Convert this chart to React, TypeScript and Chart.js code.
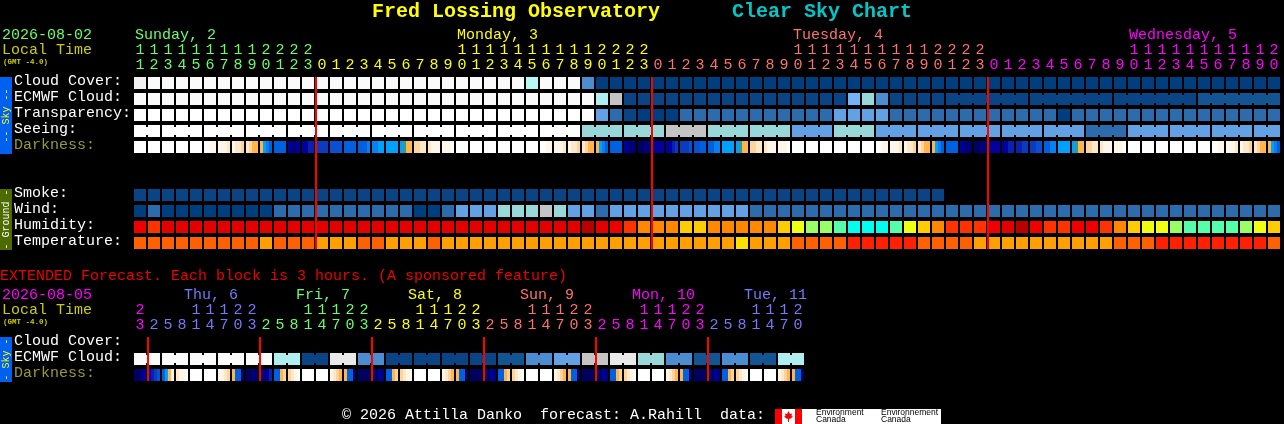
import React, { useEffect, useRef } from "react";
import { Chart, registerables } from "chart.js";

Chart.register(...registerables);

const MONO = '"Liberation Mono", monospace';

// ---------- top block: hourly forecast ----------
const hourLabels = [
  11, 12, 13, 14, 15, 16, 17, 18, 19, 20, 21, 22, 23,
  0, 1, 2, 3, 4, 5, 6, 7, 8, 9, 10, 11, 12, 13, 14, 15, 16, 17, 18, 19, 20, 21, 22, 23,
  0, 1, 2, 3, 4, 5, 6, 7, 8, 9, 10, 11, 12, 13, 14, 15, 16, 17, 18, 19, 20, 21, 22, 23,
  0, 1, 2, 3, 4, 5, 6, 7, 8, 9, 10, 11, 12, 13, 14, 15, 16, 17, 18, 19, 20,
];
const dayNames = ["Sunday, 2", "Monday, 3", "Tuesday, 4", "Wednesday, 5"];
const dayFirstHour = [0, 13, 37, 61];
const dayNameAt = [0, 23, 47, 71];
const dayColors = ["#66ff66", "#ffff00", "#ff7070", "#ff00ff"];

// sky levels: 0 clear ... 14 pure white
const skyPalette = [
  "#003f7f", "#0a4484", "#135593", "#2c6cad", "#4c8cd0", "#62a2e4", "#74b4f5", "#99d8d8",
  "#aeeeee", "#b6f7f7", "#c4c4c4", "#e9e9e9", "#f0f0f0", "#fafafa", "#ffffff",
];
const cloudCover = [
  12, 13, 13, 13, 13, 13, 13, 13, 13, 13, 13, 13, 13, 13, 13, 13, 13, 13, 13, 13, 13, 13, 13, 13, 13, 13, 13, 13, 9, 13, 13, 13,
  4, 0, 0, 0, 0, 0, 0, 0, 0, 0, 0, 0, 0, 0, 0, 0, 0, 0, 0, 0, 0, 0, 0, 0, 0, 0, 0, 0, 0, 0, 0, 0, 0, 0, 0, 0, 0, 0, 0, 0, 0, 0, 0, 0, 0, 0, 0, 0, 0, 0,
];
const ecmwfCloud = [
  13, 13, 13, 13, 13, 13, 13, 13, 13, 13, 13, 13, 13, 13, 13, 13, 13, 13, 13, 13, 13, 13, 13, 13, 13, 13, 13, 13, 13, 13, 13, 13, 13,
  8, 10,
  1, 1, 1, 1, 1, 1, 1, 1, 1, 1, 1, 1, 1, 1, 1, 1,
  6, 7, 4,
  1, 1, 1, 1, 1, 1, 1, 1, 1, 1, 1, 1, 1, 1, 1, 1, 1, 1, 1, 1, 1, 1,
  2, 2, 2, 2, 2, 2,
];
const transparency = [
  14, 14, 14, 14, 14, 14, 14, 14, 14, 14, 14, 14, 14, 14, 14, 14, 14, 14, 14, 14, 14, 14, 14, 14, 14, 14, 14, 14, 14, 14, 14, 14, 14,
  5, 3, 1, 0, 0, 0,
  3, 3, 3, 3, 3, 3, 3, 3, 3, 3, 3,
  5, 5, 5, 5,
  3, 3, 3, 3, 3, 3, 3, 3, 3, 3, 3, 3,
  0,
  3, 3, 3, 3, 3, 3, 3, 3, 3, 3, 3, 3, 3, 3, 3,
];
const seeing = [
  14, 14, 14, 14, 14, 14, 14, 14, 14, 14, 14, 14, 14, 14, 14, 14, 14, 14, 14, 14, 14, 14, 14, 14, 14, 14, 14, 14, 14, 14, 14, 14,
  7, 7, 7, 7, 7, 7, 10, 10, 10, 7, 7, 7, 7, 7, 7, 5, 5, 5, 7, 7, 7, 5, 5, 5, 5, 5, 5, 5, 5, 5, 5, 5, 5, 5, 5, 5, 3, 3, 3, 5, 5, 5, 5, 5, 5, 5, 5, 5, 5, 5,
];
const smoke = [
  1, 1, 1, 1, 1, 1, 1, 1, 1, 1, 1, 1, 1, 1, 1, 1, 1, 1, 1, 1, 1, 1, 1, 1, 1, 1, 1, 1, 1,
  1, 1, 1, 1, 1, 1, 1, 1, 1, 1, 1, 1, 1, 1, 1, 1, 1, 1, 1, 1, 1, 1, 1, 1, 1, 1, 1, 1, 1,
];
const wind = [
  0, 3, 0, 0, 0, 0, 0, 0, 0, 0, 3, 3, 3, 3, 3, 3, 3, 3, 3, 3, 0, 0, 3, 5, 5, 5, 7, 7, 7, 10, 7, 5, 5, 3, 5, 5, 5, 5, 5, 5, 5, 5, 5, 5,
  3, 3, 3, 3, 3, 3, 3, 3, 3, 3, 3, 3, 3, 3, 3, 3, 3, 3, 3, 3, 3, 3, 3, 3, 3, 3, 3, 3, 3, 3, 3, 3, 3, 3, 3, 3, 3, 3,
];
const humidityPalette: Record<number, string> = {
  50: "#00ffee", 55: "#55ffaa", 60: "#99ff66", 65: "#eeff11", 70: "#ffcc00", 75: "#ff8800",
  80: "#ff3300", 85: "#ee0000", 90: "#e20000", 95: "#b80000",
};
const humidity = [
  85, 80, 90, 90, 90, 90, 90, 90, 90, 90, 90, 90, 90, 90, 90, 90, 90, 90, 90, 90, 90, 90,
  90, 90, 90, 90, 90, 90, 90, 90, 90, 90, 95, 90, 85, 80, 75, 75, 75, 70, 70, 75, 75, 75, 75, 75, 70, 65, 60, 60, 55, 50,
  50, 50, 55, 65, 70, 75, 80, 80, 80, 85, 90, 95, 85, 80, 80, 85, 85, 80, 75, 70, 65, 65, 60, 55, 55, 55, 55, 60, 65, 70,
];
const temperaturePalette: Record<number, string> = {
  18: "#ffdf00", 20: "#ffa000", 22: "#ff6000", 25: "#ff2000",
};
const temperature = [
  22, 22, 22, 22, 22, 22, 22, 22, 22, 20, 22, 22, 22, 20, 20, 20, 22, 22, 20, 20, 20, 22,
  20, 20, 20, 20, 20, 20, 20, 20, 20, 20, 20, 20, 20, 20, 20, 20, 20, 20, 20, 20, 20, 18, 20, 20, 20, 22, 22, 22, 22, 25,
  25, 25, 25, 25, 22, 22, 22, 22, 20, 20, 20, 20, 20, 20, 20, 20, 20, 20, 22, 22, 22, 25, 25, 25, 25, 25, 25, 25, 25, 22,
];
const darknessPalette: Record<string, string> = {
  w: "#ffffff", c: "#fff6ea", d: "#ffe8c8", t: "#ffd49a", o: "#ffb44c", g: "#3a9a8a",
  a: "#00a0ff", b: "#0a80ee", e: "#0060e0", f: "#0a50d0", h: "#0a3cc0", i: "#0a20b0",
  j: "#0000a0", k: "#000080", l: "#000060",
};
const darkness = [
  "wwww", "wwww", "wwww", "wwww", "wwww", "wwcc", "cccd", "cddt", "dtoo", "oabe", "eeee", "jkkj", "jjii", "hhhh", "ffff", "eeee", "eeeb", "bbaa", "aaaa", "agoo", "ttdd", "dccc", "cccw",
  "wwww", "wwww", "wwww", "wwww", "wwww", "wwww", "wwcc", "cccd", "cddt", "dtoo", "oabe", "eeee", "jkkl", "llkk", "kjjj", "jjih", "hhhf", "ffee", "eebb", "aaaa", "agoo", "ttdd", "dccc", "cccw",
  "wwww", "wwww", "wwww", "wwww", "wwww", "wwww", "wwcc", "cccd", "cddt", "dtoo", "oabe", "eeee", "jkkl", "llkk", "kjjj", "jjii", "iihh", "hhff", "eebb", "aaaa", "agoo", "ttdd", "dccc", "cccw",
  "wwww", "wwww", "wwww", "wwww", "wwww", "wwww", "wwcc", "cccd", "cddt", "dtoo", "oabe",
];
const midnightCells = [13, 37, 61];
const topRowLabels = ["Cloud Cover:", "ECMWF Cloud:", "Transparency:", "Seeing:", "Darkness:", "", "", "Smoke:", "Wind:", "Humidity:", "Temperature:"];

// ---------- bottom block: extended forecast ----------
const extHourLabels = [
  23, 2, 5, 8, 11, 14, 17, 20, 23, 2, 5, 8, 11, 14, 17, 20, 23, 2, 5, 8, 11, 14, 17, 20, 23,
  2, 5, 8, 11, 14, 17, 20, 23, 2, 5, 8, 11, 14, 17, 20, 23, 2, 5, 8, 11, 14, 17, 20,
];
const extDayNames = ["Thu, 6", "Fri, 7", "Sat, 8", "Sun, 9", "Mon, 10", "Tue, 11"];
const extDayFirstHour = [1, 9, 17, 25, 33, 41];
const extDayColors = ["#7777ff", "#66ff66", "#ffff00", "#ff7070", "#ff00ff", "#7777ff"];
const extFirstColor = "#ff00ff";
const extEcmwf = [
  13, 13, 13, 13, 13, 13, 13, 13, 13, 13, 8, 8, 1, 1, 11, 11, 4, 4, 1, 1, 1, 1, 1, 1,
  1, 1, 2, 2, 4, 4, 5, 5, 10, 10, 11, 11, 7, 7, 4, 4, 2, 2, 4, 4, 2, 2, 8, 8,
];
const extDarkness = [
  "llkj", "jihf", "eaoc", "dccw", "wwww", "wwww", "ccdt", "oeel", "llkl", "lkji", "eeot", "tdcw", "wwww", "wwww", "cdto", "oeel",
  "llll", "lljk", "eeot", "tdcc", "wwww", "wwww", "cdto", "oeel", "llll", "lljk", "eeot", "tdcw", "wwww", "wwww", "cdto", "oeel",
  "llll", "lljk", "eeot", "tdcw", "wwww", "wwww", "cdto", "oeel", "llll", "lljk", "eeot", "tdcw", "wwww", "wwww", "cdto", "oeel",
];
const extMidnightCells = [1, 9, 17, 25, 33, 41];
const extRowLabels = ["Cloud Cover:", "ECMWF Cloud:", "Darkness:"];

// ---------- dataset helpers ----------
const CELL = 12;
const PITCH = 14;
const ROW = 16;
const LABEL_OFFSET = 4.5 / ROW;
const cellSpan = CELL / ROW;
const common = { grouped: false, borderWidth: 0, inflateAmount: 0 };

function cellRow(values: number[], row: number, color: (v: number) => string) {
  return {
    ...common,
    xAxisID: "x",
    yAxisID: "y",
    barThickness: CELL,
    order: 3,
    data: values.map(() => [row, row + cellSpan]),
    backgroundColor: values.map(color),
  };
}
function connectors(values: number[], row: number, joined: (i: number) => boolean, color: (v: number) => string) {
  const idx = values.map((_, i) => i).filter((i) => i < values.length - 1 && joined(i));
  return {
    ...common,
    xAxisID: "x2",
    yAxisID: "y",
    barThickness: 2,
    order: 2,
    data: idx.map((i) => ({ x: i + (PITCH - 1) / PITCH, y: [row + 2 / ROW, row + 10 / ROW] })),
    backgroundColor: idx.map((i) => color(values[i])),
  };
}
function darknessRow(samples: string[], row: number) {
  const points: { x: number; y: number[] }[] = [];
  const colors: string[] = [];
  samples.forEach((cell, i) => {
    cell.split("").forEach((c, k) => {
      points.push({ x: i + (3 * k + 1.5) / PITCH, y: [row, row + cellSpan] });
      colors.push(darknessPalette[c]);
    });
  });
  return { ...common, xAxisID: "x2", yAxisID: "y", barThickness: 3, order: 3, data: points, backgroundColor: colors };
}
function midnightLines(cells: number[], top: number, bottom: number) {
  return {
    ...common,
    xAxisID: "x2",
    yAxisID: "y",
    barThickness: 2,
    order: 0,
    data: cells.map((c) => ({ x: c, y: [top, bottom] })),
    backgroundColor: "#ff0000",
  };
}
const sky = (v: number) => skyPalette[v];

function text(ctx: CanvasRenderingContext2D, s: string, x: number, y: number, color: string, font = `15px ${MONO}`) {
  ctx.font = font;
  ctx.fillStyle = color;
  ctx.textAlign = "left";
  ctx.textBaseline = "middle";
  ctx.fillText(s, x, y);
}
function strip(ctx: CanvasRenderingContext2D, top: number, bottom: number, fill: string, label: string, color: string) {
  ctx.fillStyle = fill;
  ctx.fillRect(0, top, 12, bottom - top);
  ctx.save();
  ctx.translate(6, (top + bottom) / 2);
  ctx.rotate(-Math.PI / 2);
  ctx.font = `10px ${MONO}`;
  ctx.fillStyle = color;
  ctx.textAlign = "center";
  ctx.textBaseline = "middle";
  ctx.fillText(label, 0, 0);
  ctx.restore();
}

function baseOptions(opts: {
  rows: number;
  labels: string[];
  chartTop: number;
  right: number;
  bottom: number;
  cells: number;
  hourColor: (i: number) => string;
  hours: number[];
}) {
  const rowTicks = opts.labels.map((_, i) => i + LABEL_OFFSET);
  return {
    animation: false as const,
    responsive: false,
    devicePixelRatio: 1,
    layout: { padding: { left: 14, right: opts.right, top: 0, bottom: opts.bottom } },
    plugins: { legend: { display: false }, tooltip: { enabled: false }, title: { display: false } },
    events: [] as never[],
    scales: {
      x: {
        type: "category" as const,
        position: "top" as const,
        offset: true,
        grid: { display: false, drawTicks: true, tickLength: 4 },
        border: { display: false },
        ticks: {
          autoSkip: false,
          maxRotation: 0,
          minRotation: 0,
          padding: 0,
          font: { family: MONO, size: 15, lineHeight: "15px" },
          color: (c: any) => opts.hourColor(c.index),
          callback: (_: unknown, i: number) => {
            const h = String(opts.hours[i]);
            return h.length > 1 ? [h[0], h[1]] : ["", h];
          },
        },
        afterFit: (s: any) => {
          s.height = opts.chartTop;
          s.paddingLeft = 0;
          s.paddingRight = 0;
        },
      },
      x2: {
        type: "linear" as const,
        axis: "x",
        display: false,
        offset: false,
        min: -1 / PITCH,
        max: opts.cells - 1 / PITCH,
      },
      y: {
        type: "linear" as const,
        reverse: true,
        min: 0,
        max: opts.rows - 1 + cellSpan,
        grid: { display: false, drawTicks: false },
        border: { display: false },
        afterBuildTicks: (s: any) => {
          s.ticks = rowTicks.map((value) => ({ value }));
        },
        ticks: {
          autoSkip: false,
          crossAlign: "far" as const,
          padding: 0,
          font: { family: MONO, size: 15 },
          color: (c: any) => (opts.labels[Math.round(c.tick.value - LABEL_OFFSET)] === "Darkness:" ? "#999933" : "#ffffff"),
          callback: (v: number) => opts.labels[Math.round(v - LABEL_OFFSET)],
        },
        afterFit: (s: any) => {
          s.width = 119;
          s.paddingTop = 0;
          s.paddingBottom = 0;
        },
      },
    },
  };
}

const topPlugin = {
  id: "topText",
  afterDraw(chart: any) {
    const ctx = chart.ctx as CanvasRenderingContext2D;
    const x = chart.scales.x;
    ctx.save();
    text(ctx, "Fred Lossing Observatory", 372, 12, "#ffff00", `bold 20px ${MONO}`);
    text(ctx, "Clear Sky Chart", 732, 12, "#00c8c8", `bold 20px ${MONO}`);
    text(ctx, "2026-08-02", 2, 35, "#66ff66");
    text(ctx, "Local Time", 2, 50, "#cccc00");
    text(ctx, "(GMT -4.0)", 3, 62, "#cccc00", `bold 7.5px ${MONO}`);
    dayNames.forEach((d, i) => text(ctx, d, x.getPixelForValue(dayNameAt[i]) - 5, 35, dayColors[i]));
    strip(ctx, 77, 154, "#0060f0", "-- Sky --", "#ffff00");
    strip(ctx, 189, 250, "#4d6b00", "- Ground -", "#ffffff");
    ctx.restore();
  },
};

const bottomPlugin = {
  id: "bottomText",
  afterDraw(chart: any) {
    const ctx = chart.ctx as CanvasRenderingContext2D;
    const x = chart.scales.x;
    ctx.save();
    text(ctx, "EXTENDED Forecast. Each block is 3 hours. (A sponsored feature)", 0, 11, "#ee0000");
    text(ctx, "2026-08-05", 2, 30, "#ff00ff");
    text(ctx, "Local Time", 2, 45, "#cccc00");
    text(ctx, "(GMT -4.0)", 3, 57, "#cccc00", `bold 7.5px ${MONO}`);
    extDayNames.forEach((d, i) =>
      text(ctx, d, x.getPixelForValue(extDayFirstHour[i]) + 30, 30, extDayColors[i])
    );
    strip(ctx, 72, 117, "#0060f0", "- Sky -", "#ffff00");
    text(ctx, "\u00a9 2026 Attilla Danko  forecast: A.Rahill  data:", 342, 150, "#ffffff");
    // data-provider logo
    ctx.fillStyle = "#ffffff";
    ctx.fillRect(775, 144, 166, 15);
    ctx.fillStyle = "#ff0000";
    ctx.fillRect(775, 144, 7, 15);
    ctx.fillRect(795, 144, 7, 15);
    ctx.beginPath();
    [[788.5, 146], [790, 149], [792, 148.5], [791.5, 151], [793, 151.5], [790, 154], [789, 153.5], [789, 157], [788, 157], [788, 153.5], [787, 154], [784, 151.5], [785.5, 151], [785, 148.5], [787, 149]].forEach(
      ([px, py], i) => (i ? ctx.lineTo(px, py) : ctx.moveTo(px, py))
    );
    ctx.closePath();
    ctx.fill();
    const small = '8.5px "Liberation Sans", sans-serif';
    text(ctx, "Environment", 816, 148, "#000000", small);
    text(ctx, "Canada", 816, 155, "#000000", small);
    text(ctx, "Environnement", 881, 148, "#000000", small);
    text(ctx, "Canada", 881, 155, "#000000", small);
    ctx.restore();
  },
};

const dayColorAt = (starts: number[], colors: string[], first: string) => (i: number) => {
  let c = first;
  starts.forEach((s, k) => {
    if (i >= s) c = colors[k];
  });
  return c;
};

export default function App() {
  const topRef = useRef<HTMLCanvasElement>(null);
  const bottomRef = useRef<HTMLCanvasElement>(null);

  useEffect(() => {
    document.body.style.margin = "0";
    document.body.style.background = "#000";
    const topChart = new Chart(topRef.current as HTMLCanvasElement, {
      type: "bar",
      data: {
        labels: hourLabels.map(String),
        datasets: [
          cellRow(cloudCover, 0, sky),
          cellRow(ecmwfCloud, 1, sky),
          connectors(ecmwfCloud, 1, (i) => i >= 58 && (i - 58) % 6 !== 5, sky),
          cellRow(transparency, 2, sky),
          cellRow(seeing, 3, sky),
          connectors(seeing, 3, (i) => (i + 1) % 3 !== 2, sky),
          darknessRow(darkness, 4),
          cellRow(smoke, 7, sky),
          cellRow(wind, 8, sky),
          cellRow(humidity, 9, (v) => humidityPalette[v]),
          cellRow(temperature, 10, (v) => temperaturePalette[v]),
          midnightLines(midnightCells, 0, 10 + cellSpan),
        ] as any,
      },
      options: baseOptions({
        rows: 11,
        labels: topRowLabels,
        chartTop: 77,
        right: 1284 - 133 - 82 * PITCH,
        bottom: 265 - 249,
        cells: 82,
        hours: hourLabels,
        hourColor: dayColorAt(dayFirstHour, dayColors, dayColors[0]),
      }) as any,
      plugins: [topPlugin],
    });
    const bottomChart = new Chart(bottomRef.current as HTMLCanvasElement, {
      type: "bar",
      data: {
        labels: extHourLabels.map(String),
        datasets: [
          cellRow(extEcmwf, 1, sky),
          connectors(extEcmwf, 1, (i) => i % 2 === 0, sky),
          darknessRow(extDarkness, 2),
          midnightLines(extMidnightCells, 0, 2 + cellSpan),
        ] as any,
      },
      options: baseOptions({
        rows: 3,
        labels: extRowLabels,
        chartTop: 72,
        right: 1284 - 133 - 48 * PITCH,
        bottom: 159 - 116,
        cells: 48,
        hours: extHourLabels,
        hourColor: dayColorAt(extDayFirstHour, extDayColors, extFirstColor),
      }) as any,
      plugins: [bottomPlugin],
    });
    return () => {
      topChart.destroy();
      bottomChart.destroy();
    };
  }, []);

  return (
    <div style={{ position: "absolute", left: 0, top: 0, width: 1284, height: 424, background: "#000", overflow: "hidden" }}>
      <canvas ref={topRef} width={1284} height={265} style={{ position: "absolute", left: 0, top: 0, display: "block" }} />
      <canvas ref={bottomRef} width={1284} height={159} style={{ position: "absolute", left: 0, top: 265, display: "block" }} />
    </div>
  );
}
